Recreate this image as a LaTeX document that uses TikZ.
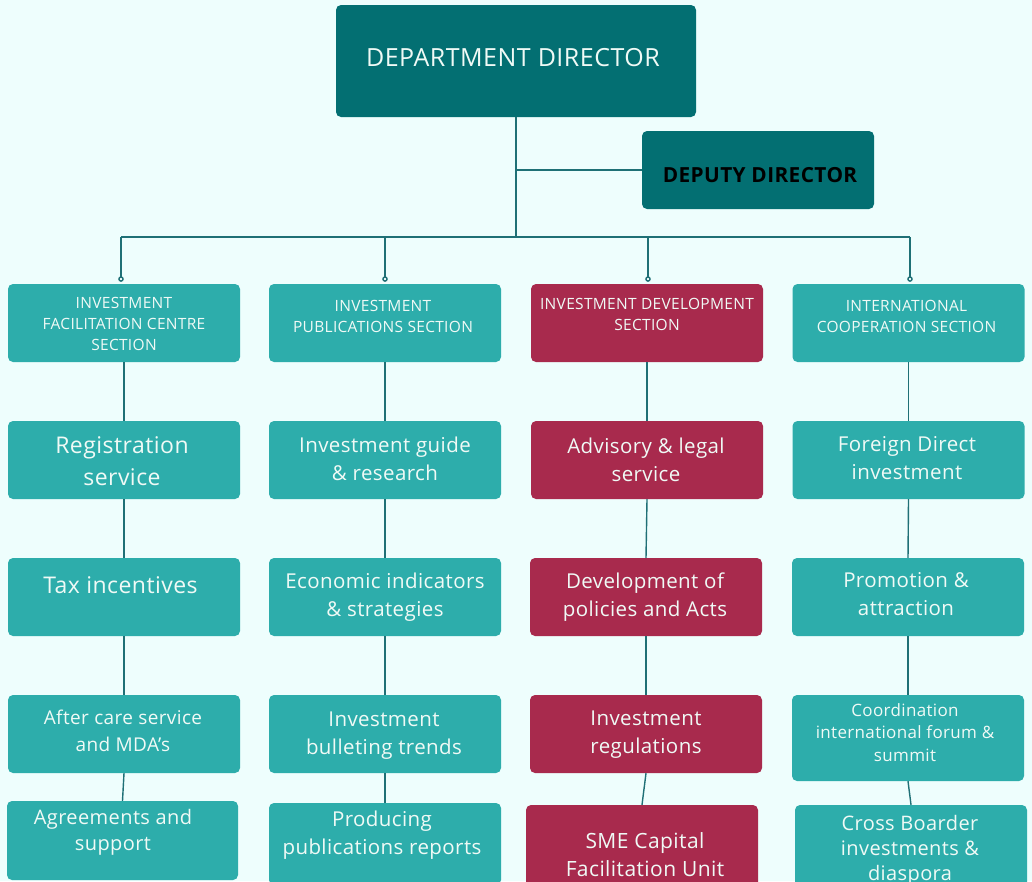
\documentclass[tikz,border=0pt]{standalone}
\usepackage{fontspec}
\setmainfont{Open Sans}[LetterSpace=2]
\usetikzlibrary{arrows.meta}
\definecolor{bg}{HTML}{EEFEFD}
\definecolor{darkteal}{HTML}{036F72}
\definecolor{midteal}{HTML}{2DADAB}
\definecolor{crim}{HTML}{A82A4D}
\definecolor{linec}{HTML}{1F7076}
\definecolor{txtc}{HTML}{F0FAF6}
\tikzset{
  box/.style={rectangle, rounded corners=5pt, minimum width=232pt, minimum height=78pt, inner sep=0pt, draw=none},
  tbox/.style={box, fill=midteal},
  rbox/.style={box, fill=crim},
  dbox/.style={box, fill=darkteal},
  txt/.style={align=center, text=txtc, inner sep=0pt},
  hdr/.style={txt, font=\fontsize{15.5}{21}\selectfont},
  big/.style={txt, font=\fontsize{23}{32}\selectfont},
  mid/.style={txt, font=\fontsize{20.5}{28}\selectfont},
  conn/.style={draw=linec, line width=1.4pt},
  drop/.style={conn, -{Circle[open,length=5.5pt,width=5.5pt,line width=1.4pt]}, shorten >=2pt}
}
\begin{document}
\begin{tikzpicture}[x=1pt,y=-1pt]
\useasboundingbox[fill=bg] (0,0) rectangle (1032,881);
\clip (0,0) rectangle (1032,881);

% top level
\node[dbox, minimum width=360pt, minimum height=112pt] (dd) at (516,61) {};
\node[txt, font=\fontsize{25}{30}\selectfont] (tdd) at (513,58) {DEPARTMENT DIRECTOR};
\node[dbox] (dep) at (758,170) {};
\node[txt, text=black, font=\fontsize{20.8}{24}\selectfont\bfseries] (tdep) at (760,175.5) {DEPUTY DIRECTOR};

% sections
\node[tbox] (s1) at (124,323) {};
\node[tbox] (s2) at (385,323) {};
\node[rbox] (s3) at (647,323) {};
\node[tbox] (s4) at (908.5,323) {};
\node[hdr] (ts1) at (124,323.5) {INVESTMENT\\FACILITATION CENTRE\\SECTION};
\node[hdr] (ts2) at (383,316) {INVESTMENT\\PUBLICATIONS SECTION};
\node[hdr] (ts3) at (647,314.5) {INVESTMENT DEVELOPMENT\\SECTION};
\node[hdr] (ts4) at (906.5,316.5) {INTERNATIONAL\\COOPERATION SECTION};

% row 2
\node[tbox] (r2c1) at (124,460) {};
\node[tbox] (r2c2) at (385,460) {};
\node[rbox] (r2c3) at (647,460) {};
\node[tbox] (r2c4) at (908.5,460) {};
\node[big] (t2c1) at (122,461.5) {Registration\\service};
\node[mid] (t2c2) at (385,459) {Investment guide\\\& research};
\node[mid] (t2c3) at (646,460) {Advisory \& legal\\service};
\node[mid] (t2c4) at (907,458) {Foreign Direct\\investment};

% row 3
\node[tbox] (r3c1) at (124,597) {};
\node[tbox] (r3c2) at (385,597) {};
\node[rbox] (r3c3) at (646,597) {};
\node[tbox] (r3c4) at (908,597) {};
\node[big] (t3c1) at (120.5,585) {Tax incentives};
\node[mid] (t3c2) at (385,597) {Economic indicators\\\& strategies};
\node[mid] (t3c3) at (645,597) {Development of\\policies and Acts};
\node[mid] (t3c4) at (906,594) {Promotion \&\\attraction};

% row 4
\node[tbox] (r4c1) at (124,734) {};
\node[tbox] (r4c2) at (385,734) {};
\node[rbox] (r4c3) at (646,734) {};
\node[tbox, minimum height=86pt] (r4c4) at (908,738) {};
\node[txt, font=\fontsize{19}{27}\selectfont] (t4c1) at (123,730.5) {After care service\\and MDA’s};
\node[mid] (t4c2) at (384,736) {Investment\\bulleting trends};
\node[mid] (t4c3) at (646,735) {Investment\\regulations};
\node[txt, font=\fontsize{17}{22.5}\selectfont] (t4c4) at (905,732.5) {Coordination\\international forum \&\\summit};

% row 5
\node[tbox, minimum width=231pt, minimum height=79pt] (r5c1) at (122.5,840.5) {};
\node[tbox, minimum height=82pt] (r5c2) at (385,844) {};
\node[rbox, minimum height=82pt] (r5c3) at (642,846) {};
\node[tbox, minimum height=82pt] (r5c4) at (911,846) {};
\node[txt, font=\fontsize{20}{26}\selectfont] (t5c1) at (113,832) {Agreements and\\support};
\node[mid] (t5c2) at (382,835) {Producing\\publications reports};
\node[txt, font=\fontsize{21}{28}\selectfont] (t5c3) at (645,854.5) {SME Capital\\Facilitation Unit};
\node[txt, font=\fontsize{20}{25}\selectfont] (t5c4) at (910,850) {Cross Boarder\\investments \&\\diaspora};

% connectors
\coordinate (busc) at (516,237);
\coordinate (b1) at (121,237);
\coordinate (b2) at (385,237);
\coordinate (b3) at (648,237);
\coordinate (b4) at (910,237);
\draw[conn] (dd.south) -- (busc);
\draw[conn] (dd.south |- dep.west) -- (dep.west);
\draw[conn] (b1) -- (b4);
\draw[drop] (b1) -- (b1 |- s1.north);
\draw[drop] (b2) -- (b2 |- s2.north);
\draw[drop] (b3) -- (b3 |- s3.north);
\draw[drop] (b4) -- (b4 |- s4.north);

\draw[conn] (s1.south) -- (r2c1.north);
\draw[conn] (r2c1.south) -- (r3c1.north);
\draw[conn] (r3c1.south) -- (r4c1.north);
\draw[conn] (r4c1.south) -- (r5c1.north);
\draw[conn] (s2.south) -- (r2c2.north);
\draw[conn] (r2c2.south) -- (r3c2.north);
\draw[conn] (r3c2.south) -- (r4c2.north);
\draw[conn] (r4c2.south) -- (r5c2.north);
\draw[conn] (s3.south) -- (r2c3.north);
\draw[conn] (r2c3.south) -- (r3c3.north);
\draw[conn] (r3c3.south) -- (r4c3.north);
\draw[conn] (r4c3.south) -- (r5c3.north);
\draw[conn] (s4.south) -- (r2c4.north);
\draw[conn] (r2c4.south) -- (r3c4.north);
\draw[conn] (r3c4.south) -- (r4c4.north);
\draw[conn] (r4c4.south) -- (r5c4.north);
\end{tikzpicture}
\end{document}
